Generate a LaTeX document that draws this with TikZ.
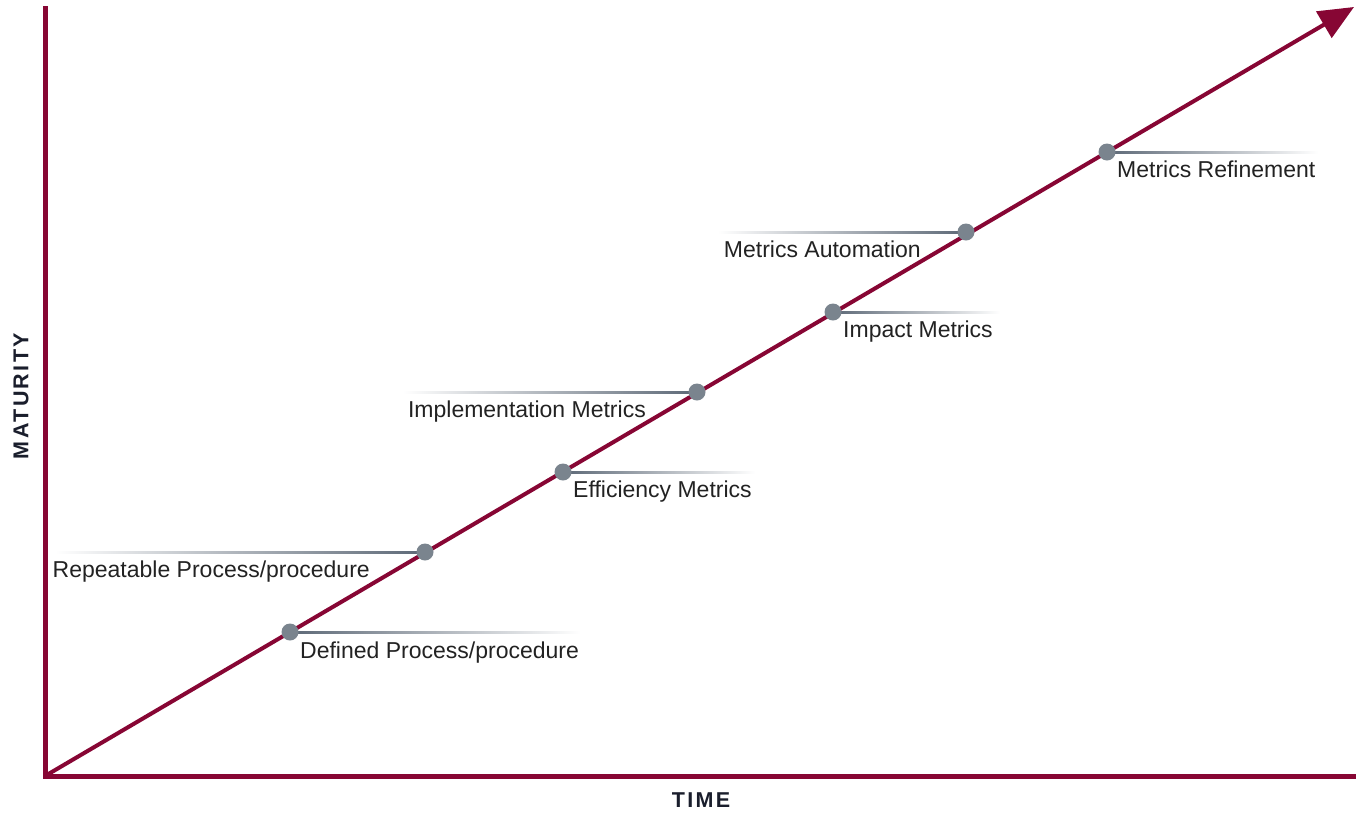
\documentclass[tikz,border=0pt]{standalone}
\usepackage{fontspec}
\setmainfont{Liberation Sans}
\usetikzlibrary{arrows.meta,calc}
\definecolor{wine}{RGB}{135,6,52}
\definecolor{dotgray}{RGB}{122,132,142}
\definecolor{linegray}{RGB}{92,104,118}
\definecolor{axisnavy}{RGB}{26,30,44}
\definecolor{txtgray}{RGB}{34,34,34}
\begin{document}
\begin{tikzpicture}[x=1pt,y=-1pt,
  axisline/.style={wine,line width=5pt},
  trend/.style={wine,line width=4pt,-{Triangle[length=35pt,width=30pt]}},
  milestone/.style={circle,fill=dotgray,inner sep=0pt,minimum size=17pt},
  lbl/.style={text=txtgray,font=\fontsize{23}{26}\selectfont,inner sep=0pt},
  axislbl/.style={text=axisnavy,font=\fontsize{21.5}{24}\selectfont\bfseries\addfontfeature{LetterSpace=11},inner sep=0pt},
  fadeR/.style={left color=linegray,right color=white,draw=none},
  fadeL/.style={left color=white,right color=linegray,draw=none}]
\useasboundingbox (0,0) rectangle (1356,812);
% axes
\coordinate (top) at (45,6);
\coordinate (org) at (45,776);
\coordinate (xend) at (1356,776);
\draw[axisline] (top) -- (org) -- (xend);
% milestone positions
\coordinate (c1) at (290,632);
\coordinate (c2) at (425,552);
\coordinate (c3) at (563,472);
\coordinate (c4) at (697,392);
\coordinate (c5) at (833,312);
\coordinate (c6) at (966,232);
\coordinate (c7) at (1107,152);
% guide line ends
\coordinate (e1) at (580,632);
\coordinate (e2) at (55,552);
\coordinate (e3) at (755,472);
\coordinate (e4) at (403,392);
\coordinate (e5) at (1000,312);
\coordinate (e6) at (718,232);
\coordinate (e7) at (1318,152);
% fading guide lines
\shade[fadeR] ($(c1)+(0,-1)$) rectangle ($(e1)+(0,1)$);
\shade[fadeL] ($(e2)+(0,-1)$) rectangle ($(c2)+(0,1)$);
\shade[fadeR] ($(c3)+(0,-1)$) rectangle ($(e3)+(0,1)$);
\shade[fadeL] ($(e4)+(0,-1)$) rectangle ($(c4)+(0,1)$);
\shade[fadeR] ($(c5)+(0,-1)$) rectangle ($(e5)+(0,1)$);
\shade[fadeL] ($(e6)+(0,-1)$) rectangle ($(c6)+(0,1)$);
\shade[fadeR] ($(c7)+(0,-1)$) rectangle ($(e7)+(0,1)$);
% trend arrow
\coordinate (tip) at (1354,7);
\draw[trend] (org) -- (tip);
% milestones
\node[milestone] (d1) at (c1) {};
\node[milestone] (d2) at (c2) {};
\node[milestone] (d3) at (c3) {};
\node[milestone] (d4) at (c4) {};
\node[milestone] (d5) at (c5) {};
\node[milestone] (d6) at (c6) {};
\node[milestone] (d7) at (c7) {};
% labels
\node[lbl,anchor=base west] (t1) at (300,658) {Defined Process/procedure};
\node[lbl,anchor=base east] (t2) at (370,577) {Repeatable Process/procedure};
\node[lbl,anchor=base west] (t3) at (573,497) {Efficiency Metrics};
\node[lbl,anchor=base east] (t4) at (646,417) {Implementation Metrics};
\node[lbl,anchor=base west] (t5) at (843,337) {Impact Metrics};
\node[lbl,anchor=base east] (t6) at (921,257) {Metrics Automation};
\node[lbl,anchor=base west] (t7) at (1117,177) {Metrics Refinement};
% axis labels
\node[axislbl,rotate=90] (ylab) at (21,396) {MATURITY};
\node[axislbl] (xlab) at (701,800) {TIME};
\end{tikzpicture}
\end{document}
